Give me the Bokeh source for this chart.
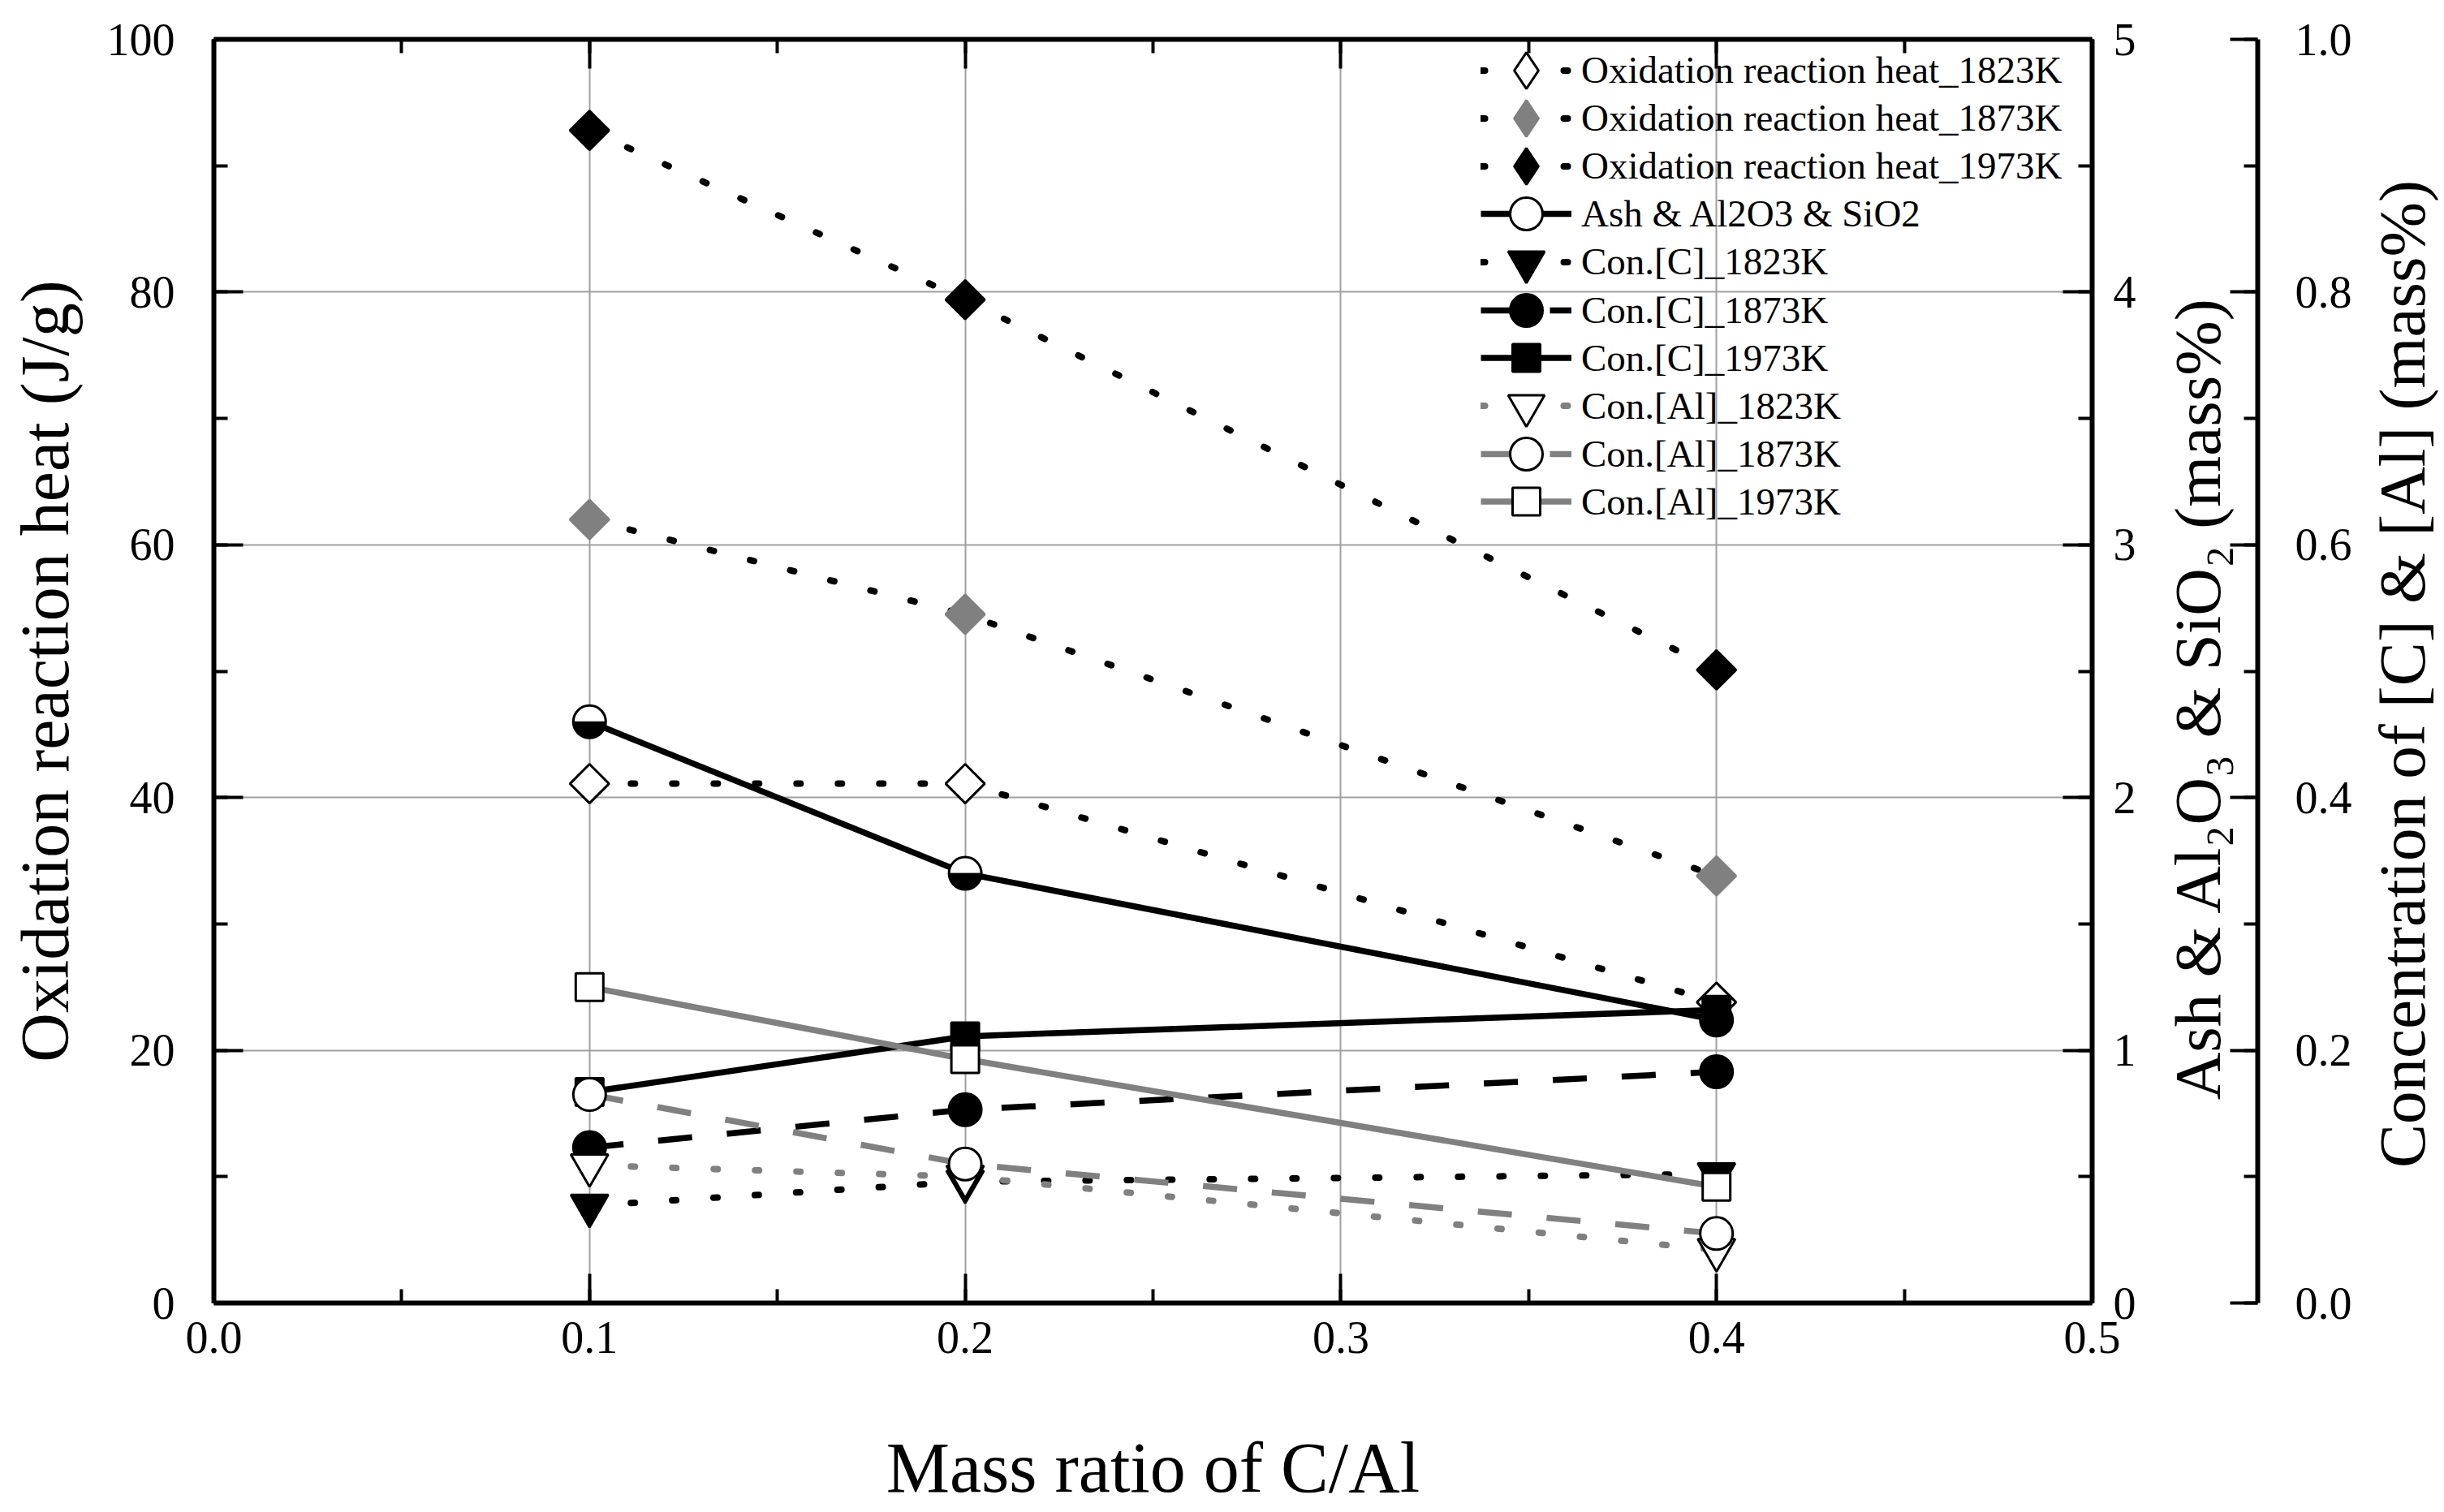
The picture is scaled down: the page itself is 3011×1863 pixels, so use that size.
import numpy as np

from bokeh.plotting import figure
from bokeh.layouts import row
from bokeh.models import (Range1d, LinearAxis, SingleIntervalTicker, NumeralTickFormatter,
                          Legend, LegendItem, ColumnDataSource, Label)
from bokeh.embed import file_html
from bokeh.resources import INLINE

# values
mass_ratio = [0.1, 0.2, 0.4]
heat_1823 = [41.1, 41.1, 23.8]
heat_1873 = [62.0, 54.5, 33.8]
heat_1973 = [92.8, 79.4, 50.1]
ash_oxides = [2.30, 1.70, 1.12]
con_c_1823 = [0.077, 0.096, 0.102]
con_c_1873 = [0.123, 0.153, 0.183]
con_c_1973 = [0.167, 0.211, 0.232]
con_al_1823 = [0.109, 0.100, 0.042]
con_al_1873 = [0.165, 0.110, 0.055]
con_al_1973 = [0.250, 0.193, 0.092]

FONT = "Liberation Serif"
GREY = "#808080"
DOT = "5 46"
DASH = "42 43"

H = 1860
FRAME_L, FRAME_R, FRAME_T, FRAME_B = 263, 2577, 48, 1605
frame_h = FRAME_B - FRAME_T
W1 = 2640          # main plot, up to the ash axis labels
W2 = 260           # gap panel + concentration axis
W3 = 110           # concentration title
CONC_LINE = 2784   # where the concentration axis sits


def style_axis(ax, tick_in=36, minor_in=17):
    ax.axis_line_width = 6
    ax.axis_line_color = "black"
    ax.major_tick_in = tick_in
    ax.major_tick_out = 0
    ax.minor_tick_in = minor_in
    ax.minor_tick_out = 0
    ax.major_tick_line_width = 4
    ax.minor_tick_line_width = 4
    ax.major_tick_line_color = "black"
    ax.minor_tick_line_color = "black"
    ax.major_label_text_font = FONT
    ax.major_label_text_font_size = "56px"
    ax.major_label_text_color = "black"
    ax.axis_label_text_font = FONT
    ax.axis_label_text_font_size = "84px"
    ax.axis_label_text_font_style = "normal"
    ax.axis_label_text_color = "black"


def side_title(text, sx, sy):
    return Label(x=sx, y=sy, x_units="screen", y_units="screen", text=text,
                 angle=np.pi / 2, text_align="center", text_baseline="middle",
                 text_font=FONT, text_font_size="81px", text_color="black")


p = figure(width=W1, height=H, x_range=Range1d(0, 0.5), y_range=Range1d(0, 100),
           output_backend="svg", toolbar_location=None,
           min_border_left=FRAME_L, min_border_right=W1 - FRAME_R,
           min_border_top=FRAME_T, min_border_bottom=H - FRAME_B,
           x_axis_label="Mass ratio of C/Al",
           y_axis_label="Oxidation reaction heat (J/g)")
p.outline_line_color = None
p.extra_y_ranges = {"ash": Range1d(0, 5), "conc": Range1d(0, 1)}

xt = SingleIntervalTicker(interval=0.1, num_minor_ticks=2)
yt = SingleIntervalTicker(interval=20, num_minor_ticks=2)

xax = p.xaxis[0]
style_axis(xax)
xax.ticker = xt
xax.formatter = NumeralTickFormatter(format="0.0")
xax.major_label_standoff = 23
xax.axis_label_standoff = 90
xax.axis_label_text_font_size = "88px"

yax = p.yaxis[0]
style_axis(yax)
yax.ticker = yt
yax.major_label_standoff = 48
yax.axis_label_standoff = 27

p.xgrid.ticker = xt
p.ygrid.ticker = yt
for g in (p.xgrid, p.ygrid):
    g.grid_line_color = "#a0a0a0"
    g.grid_line_width = 2

# frame top: ticks only
top = LinearAxis(ticker=SingleIntervalTicker(interval=0.1, num_minor_ticks=2))
style_axis(top)
top.major_label_text_font_size = "8px"
top.major_label_text_color = None
top.major_label_standoff = 0
p.add_layout(top, "above")

ash_ax = LinearAxis(y_range_name="ash",
                    ticker=SingleIntervalTicker(interval=1, num_minor_ticks=2))
style_axis(ash_ax)
ash_ax.major_label_standoff = 26
p.add_layout(ash_ax, "right")

# label, values, range, line colour, dash, marker, fill, size
series = [
    ("Oxidation reaction heat_1823K", heat_1823, "default", "black", DOT, "diamond", "white", 34),
    ("Oxidation reaction heat_1873K", heat_1873, "default", "black", DOT, "diamond", GREY, 34),
    ("Oxidation reaction heat_1973K", heat_1973, "default", "black", DOT, "diamond", "black", 34),
    ("Ash & Al2O3 & SiO2", ash_oxides, "ash", "black", "solid", "circle", "white", 40),
    ("Con.[C]_1823K", con_c_1823, "conc", "black", DOT, "inverted_triangle", "black", 46),
    ("Con.[C]_1873K", con_c_1873, "conc", "black", DASH, "circle", "black", 40),
    ("Con.[C]_1973K", con_c_1973, "conc", "black", "solid", "square", "black", 34),
    ("Con.[Al]_1823K", con_al_1823, "conc", GREY, DOT, "inverted_triangle", "white", 46),
    ("Con.[Al]_1873K", con_al_1873, "conc", GREY, DASH, "circle", "white", 40),
    ("Con.[Al]_1973K", con_al_1973, "conc", GREY, "solid", "square", "white", 34),
]

row0, row_step = 38, 59.1

for i, (label, vals, rng, lc, dash, marker, fill, size) in enumerate(series):
    src = ColumnDataSource(data={"x": mass_ratio, "y": vals})
    line = p.line("x", "y", source=src, y_range_name=rng, line_color=lc,
                  line_width=8 if dash == DOT else 7.5, line_dash=dash,
                  line_cap="round" if dash == DOT else "butt")
    edge = GREY if fill == GREY else "black"
    if marker == "diamond":
        pts = p.scatter("x", "y", source=src, y_range_name=rng, marker="square", size=size,
                        angle=np.pi / 4, fill_color=fill, line_color=edge, line_width=3)
        # legend glyphs are never rotated, so the key uses a hidden diamond renderer
        key = p.scatter("x", "y", source=src, y_range_name=rng, marker="diamond",
                        fill_color=fill, line_color=edge, line_width=3, visible=False)
        gh = 125
    else:
        pts = p.scatter("x", "y", source=src, y_range_name=rng, marker=marker, size=size,
                        fill_color=fill, line_color=edge, line_width=3)
        key = pts
        gh = size / 0.4
    if label.startswith("Ash"):
        p.wedge("x", "y", source=src, y_range_name=rng, radius=20, radius_units="screen",
                start_angle=np.pi, end_angle=2 * np.pi, fill_color="black", line_color="black")
    center = row0 + row_step * i
    leg = Legend(items=[LegendItem(label=label, renderers=[line, key])],
                 location=(1561, frame_h - center - gh / 2),
                 glyph_width=112, glyph_height=int(gh), label_standoff=12,
                 padding=0, margin=0, spacing=0,
                 border_line_color=None, background_fill_alpha=0,
                 label_text_font=FONT, label_text_font_size="47px",
                 label_text_color="black")
    p.add_layout(leg)

# second panel: ash title and the concentration axis
p2 = figure(width=W2, height=H, x_range=Range1d(0, 1), y_range=Range1d(0, 1),
            output_backend="svg", toolbar_location=None,
            x_axis_location=None, y_axis_location="right",
            min_border_left=0, min_border_right=W2 - (CONC_LINE - W1),
            min_border_top=FRAME_T, min_border_bottom=H - FRAME_B)
p2.outline_line_color = None
p2.grid.visible = False
conc_ax = p2.yaxis[0]
style_axis(conc_ax, tick_in=34)
conc_ax.ticker = SingleIntervalTicker(interval=0.2, num_minor_ticks=2)
conc_ax.formatter = NumeralTickFormatter(format="0.0")
conc_ax.major_label_standoff = 46
p2.add_layout(side_title("Ash & Al\u2082O\u2083 & SiO\u2082 (mass%)", 2707 - W1, 746))

# third panel: concentration title
p3 = figure(width=W3, height=H, x_range=Range1d(0, 1), y_range=Range1d(0, 1),
            output_backend="svg", toolbar_location=None,
            x_axis_location=None, y_axis_location=None,
            min_border_left=0, min_border_right=0,
            min_border_top=FRAME_T, min_border_bottom=H - FRAME_B)
p3.outline_line_color = None
p3.grid.visible = False
p3.add_layout(side_title("Concentration of [C] & [Al] (mass%)", 2959 - W1 - W2, 775))

layout = row(p, p2, p3, spacing=0)
open("out.html", "w").write(file_html(layout, INLINE))
